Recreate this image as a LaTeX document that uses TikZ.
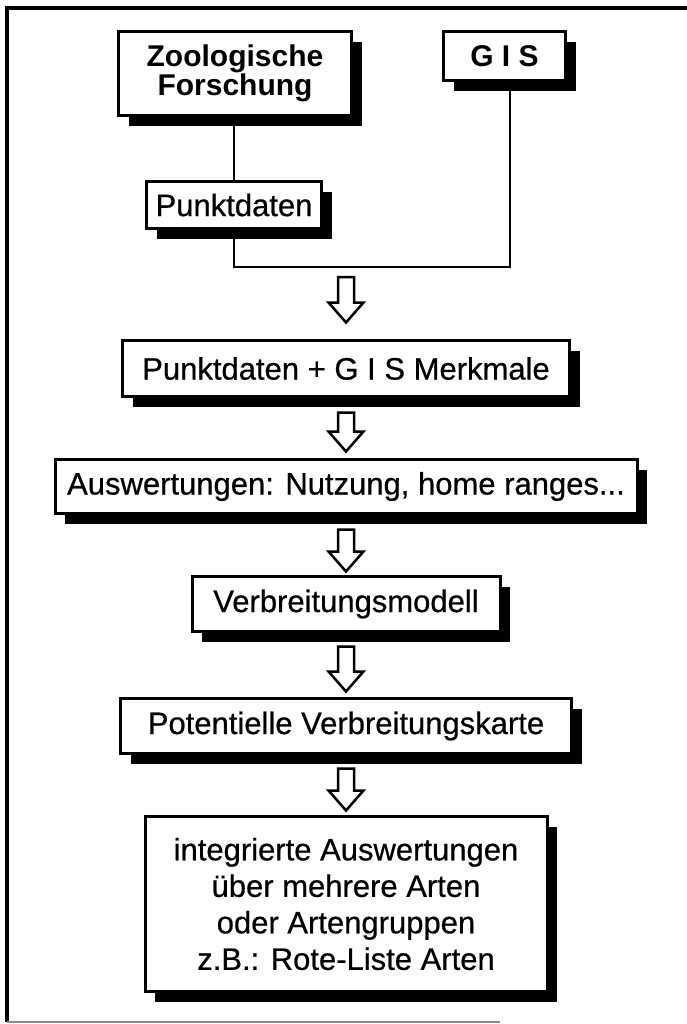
\documentclass[tikz,border=0pt]{standalone}
\usepackage{fontspec}
\setmainfont{Liberation Sans}
\newfontfamily\medfont[FakeBold=0.6]{Liberation Sans}
\usetikzlibrary{shadows,calc}
\newcommand\harrow[2]{%
  \draw[harrowstyle] let \p1=#1, \p2=#2 in
    (\x1-8pt,\y1) -- (\x1-8pt,\y2+20pt) -- (\x1-17.5pt,\y2+20pt) -- (\x1,\y2)
    -- (\x1+17.5pt,\y2+20pt) -- (\x1+8pt,\y2+20pt) -- (\x1+8pt,\y1) -- cycle;}
\begin{document}
\begin{tikzpicture}[x=1pt,y=-1pt,
  box/.style={draw, line width=3pt, fill=white, inner sep=0pt, align=center,
    font=\medfont\fontsize{31}{37}\selectfont,
    drop shadow={shadow xshift=10pt, shadow yshift=-10.5pt, fill=black, opacity=1}},
  boldbox/.style={box, font=\fontsize{30}{29}\selectfont\bfseries},
  conn/.style={line width=2.5pt},
  harrowstyle/.style={line width=2.5pt, line join=miter, fill=white},
  frameline/.style={line width=3.5pt}]
\useasboundingbox (0,0) rectangle (687,1024);
% frame
\draw[frameline] (5,8) -- (687,8);
\draw[line width=4pt] (7,6) -- (7,1022);
\draw[line width=1.5pt, black!45] (7,1022) -- (500,1022);
% boxes
\node[boldbox, minimum width=233pt, minimum height=84pt] (zoo) at (235,73.5) {Zoologische\\Forschung};
\node[boldbox, minimum width=122pt, minimum height=49pt] (gis) at (504.5,56) {G I S};
\node[box, minimum width=175pt, minimum height=47pt] (pd) at (234,205) {Punktdaten};
\node[box, minimum width=447pt, minimum height=56pt] (b2) at (346,368.5) {Punktdaten + G I S Merkmale};
\node[box, minimum width=582pt, minimum height=54pt] (b3) at (346,486.5) {Auswertungen: Nutzung, home ranges...};
\node[box, minimum width=308pt, minimum height=55pt] (b4) at (346,604) {Verbreitungsmodell};
\node[box, minimum width=451pt, minimum height=55pt] (b5) at (346,726) {Potentielle Verbreitungskarte};
\node[box, minimum width=402pt, minimum height=175pt, font=\medfont\fontsize{31}{36.5}\selectfont] (b6) at (346,904)
  {integrierte Auswertungen\\über mehrere Arten\\oder Artengruppen\\z.B.: Rote-Liste Arten};
% connectors
\coordinate (j) at (510,267);
\draw[conn] (pd.north) -- (pd.north |- zoo.south);
\draw[conn] (pd.south) |- (j) -- (j |- gis.south);
% hollow arrows
\harrow{($(b2.north |- j)+(0,10)$)}{($(b2.north)+(0,-16.5)$)}
\harrow{($(b2.south)+(0,14.5)$)}{($(b3.north)+(0,-6.5)$)}
\harrow{($(b3.south)+(0,14.5)$)}{($(b4.north)+(0,-3.5)$)}
\harrow{($(b4.south)+(0,13.5)$)}{($(b5.north)+(0,-5.5)$)}
\harrow{($(b5.south)+(0,13.5)$)}{($(b6.north)+(0,-4.5)$)}
\end{tikzpicture}
\end{document}
